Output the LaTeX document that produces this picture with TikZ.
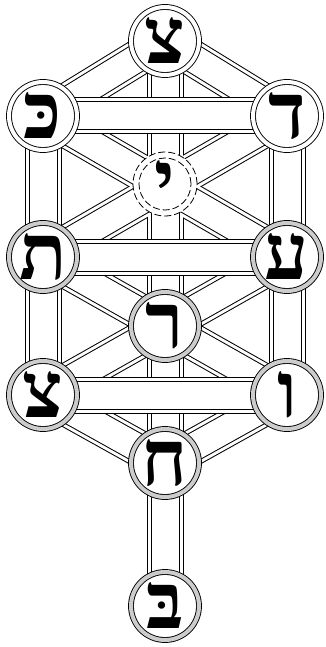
\documentclass[tikz,border=0pt]{standalone}
\usepackage{fontspec}
\newfontfamily\hebletters[Script=Hebrew]{Liberation Serif}
\usetikzlibrary{backgrounds}

\begin{document}
\begin{tikzpicture}[
  x=1pt, y=-1pt,
  letter/.style={font=\hebletters\bfseries\fontsize{78}{78}\selectfont},
  sefira/.style={circle, draw, line width=0.9pt, double distance=4pt, fill=white,
    minimum size=68pt, inner sep=0pt, letter},
  upper/.style={sefira, double=white},
  lower/.style={sefira, double=gray!40},
  daat/.style={circle, draw, line width=0.8pt, dash pattern=on 7pt off 3pt,
    fill=white, minimum size=64pt, inner sep=0pt, letter},
  daatin/.style={circle, draw, line width=0.8pt, dash pattern=on 7pt off 3pt,
    minimum size=52pt, inner sep=0pt},
  chan/.style={line width=#1}
]
  \useasboundingbox (0,0) rectangle (325,647);

  % sefirot
  \node[upper] (tsadi) at (165,41) {צ};
  \node[upper] (kaf) at (43,116) {כּ};
  \node[upper] (dalet) at (287,116) {ד};
  \node[daat] (yod) at (165,184) {י};
  \node[daatin] (yodin) at (yod) {};
  \node[lower] (tav) at (43,257) {ת};
  \node[lower] (ayin) at (287,257) {ע};
  \node[lower] (resh) at (165,326) {ר};
  \node[lower] (tsadib) at (43,395) {צ};
  \node[lower] (vav) at (287,395) {ו};
  \node[lower] (het) at (165,463) {ח};
  \node[lower] (bet) at (165,606) {בּ};

  % paths, drawn as double-edged channels
  \begin{pgfonlayer}{background}
    \foreach \w/\c in {37/black, 35/white, 29/black, 27/white}
      \foreach \a/\b in {tsadi/kaf, tsadi/dalet, kaf/tav, dalet/ayin,
          kaf/ayin, dalet/tav, tav/tsadib, ayin/vav, tav/vav, ayin/tsadib,
          tsadib/het, vav/het, tsadi/resh, resh/het, het/bet}
        \draw[chan=\w pt, \c] (\a.center) -- (\b.center);
    % the three horizontal bars lie on top
    \foreach \a/\b in {kaf/dalet, tav/ayin, tsadib/vav}
      \foreach \w/\c in {37/black, 35/white, 29/black, 27/white}
        \draw[chan=\w pt, \c] (\a.center) -- (\b.center);
  \end{pgfonlayer}
\end{tikzpicture}
\end{document}
